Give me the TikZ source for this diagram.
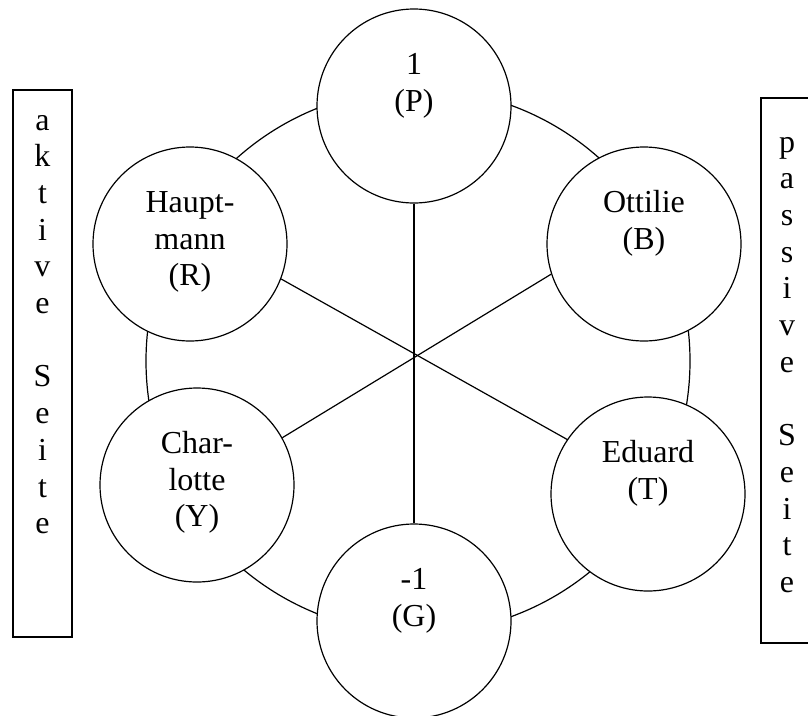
\documentclass[tikz,border=0pt]{standalone}
\usepackage{fontspec}
\setmainfont{Liberation Serif}
\begin{document}
\begin{tikzpicture}[x=1pt,y=-1pt,line width=1.2pt,
  bubble/.style={circle,draw,fill=white,minimum size=194pt,inner sep=0pt},
  lbl/.style={font=\fontsize{32}{36.7}\selectfont,align=center,text width=200pt,inner sep=0pt,anchor=base},
  sidetext/.style={font=\fontsize{32}{36.7}\selectfont,align=center,text width=40pt,inner sep=0pt,anchor=base}]
\useasboundingbox (0,0) rectangle (808,715);
% big ring
\coordinate (ring) at (418,361);
\draw (ring) circle[radius=272pt];
% side boxes
\draw (13,90) rectangle (72,637);
\draw (809,98) -- (761,98) -- (761,643) -- (809,643);
\node[sidetext] (aktiv) at (42.5,130) {a\\k\\t\\i\\v\\e\\\mbox{}\\S\\e\\i\\t\\e};
\node[sidetext] (passiv) at (787,152) {p\\a\\s\\s\\i\\v\\e\\\mbox{}\\S\\e\\i\\t\\e};
% circles
\node[bubble] (P) at (414,106) {};
\node[bubble] (H) at (190,244) {};
\node[bubble] (O) at (644,244) {};
\node[bubble] (C) at (197,485) {};
\node[bubble] (E) at (648,494) {};
\node[bubble] (G) at (414,621) {};
% spokes
\draw (P) -- (G);
\draw (H.-21.6) -- (E.146);
\draw (O.-162.5) -- (C.29);
% labels
\node[lbl] (Pt) at ([yshift=-66pt]P.north) {1\\(P)};
\node[lbl] (Ht) at ([yshift=-66pt]H.north) {Haupt-\\mann\\(R)};
\node[lbl] (Ot) at ([yshift=-66pt]O.north) {Ottilie\\(B)};
\node[lbl] (Ct) at ([yshift=-66pt]C.north) {Char-\\lotte\\(Y)};
\node[lbl] (Et) at ([yshift=-66pt]E.north) {Eduard\\(T)};
\node[lbl] (Gt) at ([yshift=-66pt]G.north) {-1\\(G)};
\end{tikzpicture}
\end{document}
